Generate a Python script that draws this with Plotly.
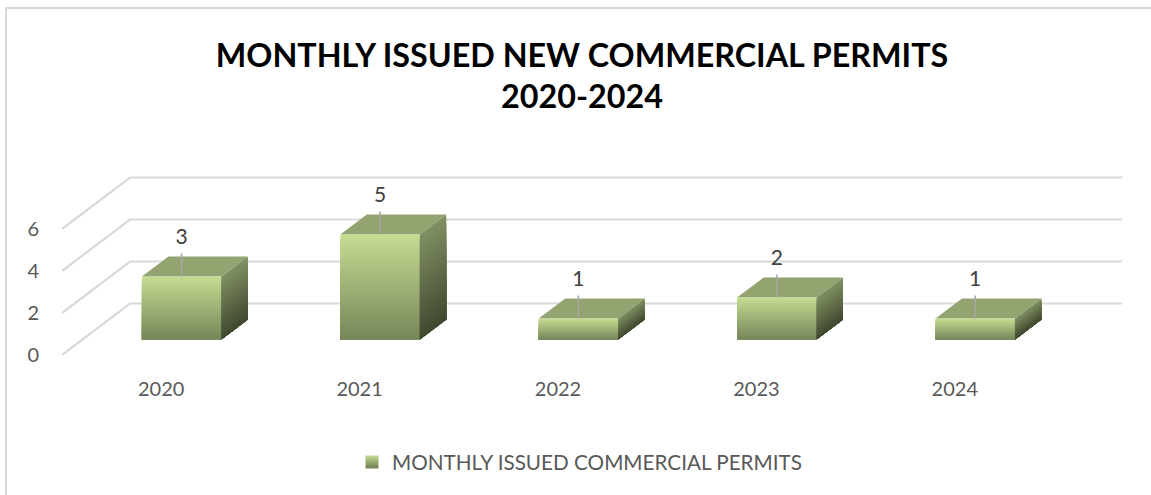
import plotly.graph_objects as go

YEARS = ["2020", "2021", "2022", "2023", "2024"]
PERMITS = [3, 5, 1, 2, 1]
Y_TICKS = [0, 2, 4, 6]
SERIES = "MONTHLY ISSUED COMMERCIAL PERMITS"
TITLE = "MONTHLY ISSUED NEW COMMERCIAL PERMITS<br>2020-2024"

FONT = "Lato"
W, H = 1151, 495
L, R, T, B = 62, 29, 140, 140
PLOT_W, PLOT_H = W - L - R, H - T - B
PX_X = PLOT_W / (5 + 68 / 198.4)
PX_Y = 21.0
DEPTH_X = 68 / PX_X
DEPTH_Y = 51.5 / PX_Y
BAR_W = 0.40
D0, D1 = 0.30, 0.69
BANDS = 24


def mix(a, b, t):
    return "rgb(%d,%d,%d)" % tuple(round(a[i] + (b[i] - a[i]) * t) for i in range(3))


FRONT_TOP, FRONT_BOT = (197, 218, 145), (120, 135, 90)
SIDE_TOP, SIDE_BOT = (128, 143, 98), (64, 74, 48)
TOP_COL = "#93a470"
GRID = "#d9d9d9"


def P(x, y, d):
    return x + DEPTH_X * d, y + DEPTH_Y * d


def px_x(p):
    return (p - L) / PLOT_W


def px_y(p):
    return (H - B - p) / PLOT_H


fig = go.Figure()

# gridlines: side wall then back wall
for v in Y_TICKS:
    x0, y0 = P(-0.5, v, 0)
    x1, y1 = P(-0.5, v, 1)
    x2, y2 = P(4.5, v, 1)
    fig.add_trace(go.Scatter(x=[x0, x1, x2], y=[y0, y1, y2], mode="lines",
                             line=dict(color=GRID, width=2.2), hoverinfo="skip", showlegend=False))


def poly(pts):
    xs, ys = [], []
    for p in pts:
        xs.append(p[0]); ys.append(p[1])
    xs.append(pts[0][0]); ys.append(pts[0][1])
    xs.append(None); ys.append(None)
    return xs, ys


def add(xs, ys, color):
    fig.add_trace(go.Scatter(x=xs, y=ys, mode="lines", fill="toself", fillcolor=color,
                             line=dict(width=0, color=color), hoverinfo="skip", showlegend=False))


# top faces
xs, ys = [], []
for i, v in enumerate(PERMITS):
    a, b = i - BAR_W / 2, i + BAR_W / 2
    px, py = poly([P(a, v, D0), P(b, v, D0), P(b, v, D1), P(a, v, D1)])
    xs += px; ys += py
add(xs, ys, TOP_COL)

# gradient faces, painted top band first, each band reaching down to the base
for k in range(BANDS):
    t = k / (BANDS - 1)
    fx, fy, sx, sy = [], [], [], []
    for i, v in enumerate(PERMITS):
        a, b = i - BAR_W / 2, i + BAR_W / 2
        h = v * (1 - k / BANDS)
        px, py = poly([P(a, 0, D0), P(b, 0, D0), P(b, h, D0), P(a, h, D0)])
        fx += px; fy += py
        px, py = poly([P(b, 0, D0), P(b, 0, D1), P(b, h, D1), P(b, h, D0)])
        sx += px; sy += py
    add(fx, fy, mix(FRONT_TOP, FRONT_BOT, t))
    add(sx, sy, mix(SIDE_TOP, SIDE_BOT, t))

# leader lines and data labels
lx, ly, tx, ty = [], [], [], []
for i, v in enumerate(PERMITS):
    x0, y0 = P(i, v, D0)
    lx += [x0, x0, None]
    ly += [y0, y0 + 1.1, None]
    tx.append(x0)
    ty.append(y0 + 1.82)
fig.add_trace(go.Scatter(x=lx, y=ly, mode="lines", line=dict(color="#a6a6a6", width=1.5),
                         hoverinfo="skip", showlegend=False))
fig.add_trace(go.Scatter(x=tx, y=ty, mode="text", text=[str(v) for v in PERMITS],
                         textposition="middle center", cliponaxis=False,
                         textfont=dict(family=FONT, size=21, color="#404040"),
                         hoverinfo="skip", showlegend=False))

# legend entry
fig.add_trace(go.Scatter(x=[None], y=[None], mode="markers", name=SERIES,
                         marker=dict(symbol="square", size=13, color="rgb(197,218,145)",
                                     gradient=dict(type="vertical", color="rgb(112,125,82)"))))

fig.update_layout(
    width=W, height=H,
    margin=dict(l=L, r=R, t=T, b=B, autoexpand=False),
    paper_bgcolor="white", plot_bgcolor="white",
    title=dict(text=TITLE, x=582 / W, xanchor="center", y=1 - 66.5 / H, yanchor="top",
               font=dict(family=FONT, size=32.3, color="#000000", weight="bold")),
    showlegend=True,
    legend=dict(orientation="h", x=px_x(579.5), xanchor="center", y=px_y(462), yanchor="middle",
                font=dict(family=FONT, size=20.7, color="#595959"), bgcolor="rgba(0,0,0,0)"),
    xaxis=dict(range=[-0.5, 4.5 + DEPTH_X], tickmode="array", tickvals=list(range(len(YEARS))),
               ticktext=YEARS, showgrid=False, zeroline=False, showline=False,
               ticks="outside", ticklen=16, tickcolor="rgba(0,0,0,0)",
               tickfont=dict(family=FONT, size=20, color="#595959")),
    yaxis=dict(range=[0, PLOT_H / PX_Y], tickmode="array", tickvals=Y_TICKS,
               showgrid=False, zeroline=False, showline=False,
               ticks="outside", ticklen=18, tickcolor="rgba(0,0,0,0)",
               tickfont=dict(family=FONT, size=20, color="#595959")),
    shapes=[
        dict(type="line", xref="paper", yref="paper", x0=px_x(5), x1=px_x(W),
             y0=px_y(8), y1=px_y(8), line=dict(color=GRID, width=2)),
        dict(type="line", xref="paper", yref="paper", x0=px_x(6), x1=px_x(6),
             y0=px_y(7), y1=px_y(H), line=dict(color=GRID, width=2)),
    ],
)
fig.write_html("out.html", config={"displayModeBar": False},
               post_script="document.body.style.margin='0';")
